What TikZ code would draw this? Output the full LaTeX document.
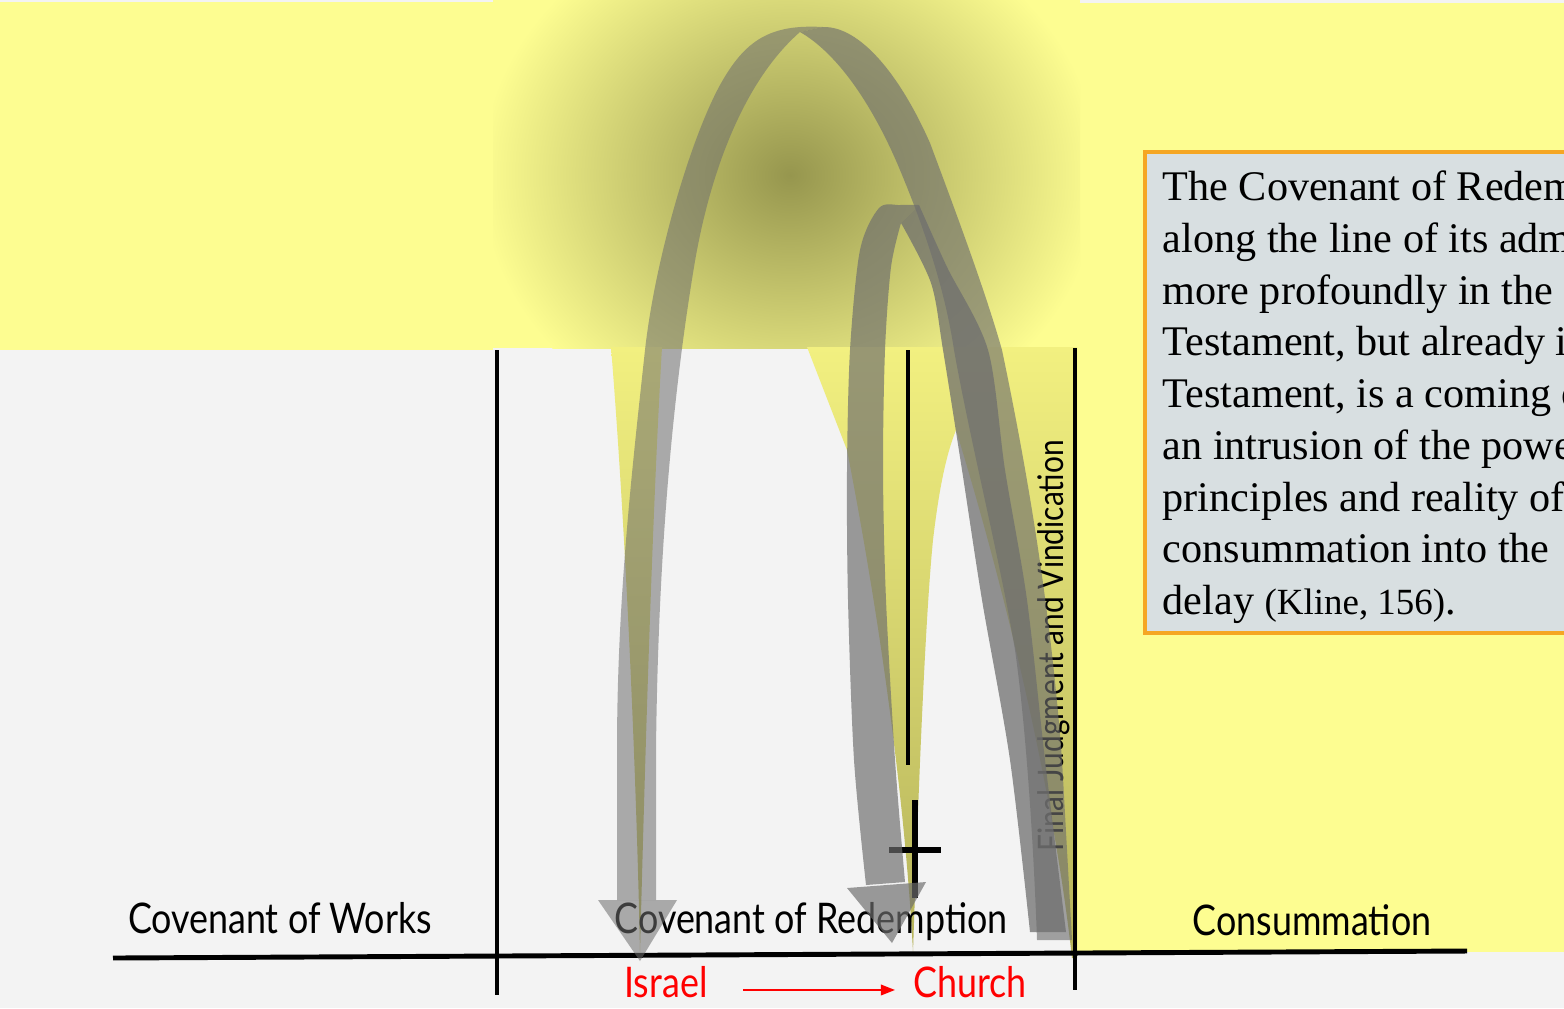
\documentclass[tikz,border=0pt]{standalone}
\usepackage{fontspec}
\setmainfont{Liberation Serif}
\newfontfamily\gillfont[FakeStretch=0.85]{Lato}
\usetikzlibrary{arrows.meta}
\definecolor{slidegray}{RGB}{243,243,243}
\definecolor{slideyellow}{RGB}{253,253,145}
\definecolor{glowolive}{RGB}{150,150,78}
\definecolor{driptop}{RGB}{242,240,128}
\definecolor{dripbottom}{RGB}{180,178,90}
\definecolor{quotefill}{RGB}{216,223,225}
\definecolor{quoteborder}{RGB}{245,166,35}
\definecolor{archgray}{RGB}{110,110,110}
\begin{document}
\begin{tikzpicture}[x=0.01cm, y=-0.01cm,
    timeline/.style={line width=1.4pt, black},
    era/.style={anchor=base, inner sep=0pt, font=\gillfont\fontsize{12}{14}\selectfont},
    people/.style={era, text=red},
    quoteline/.style={anchor=base west, inner sep=0pt, font=\fontsize{12}{14.7}\selectfont},
    bigfront/.style={archgray, fill opacity=0.55},
    bigback/.style={archgray, fill opacity=0.63},
    smallfront/.style={archgray, fill opacity=0.68},
    smallback/.style={archgray, fill opacity=0.74}]
  \useasboundingbox (0,0) rectangle (1564,1008);
  % slide background
  \fill[slidegray] (0,0) rectangle (1564,1008);
  \fill[slideyellow] (0,2) rectangle (493,350);
  \fill[slideyellow] (1077,3) rectangle (1564,952);
  \fill[slideyellow] (493,0) rectangle (1080,348);
  \begin{scope}
    \clip (493,0) rectangle (1080,348);
    \shade[inner color=glowolive, outer color=slideyellow] (790,175) ellipse [x radius=310, y radius=270];
  \end{scope}
  % glow running down
  \shade[top color=driptop, bottom color=dripbottom]
    (611,347) .. controls (625,520) and (636,760) .. (640,952)
    .. controls (645,760) and (652,520) .. (662,347) -- cycle;
  \shade[top color=driptop, bottom color=dripbottom]
    (807,347) -- (847,450) .. controls (880,620) and (905,800) .. (913,952)
    .. controls (918,800) and (925,620) .. (933,540)
    .. controls (940,480) and (948,450) .. (956,430)
    .. controls (990,540) and (1050,760) .. (1072,958)
    -- (1077,958) -- (1077,347) -- cycle;
  % quotation
  \draw[quoteborder, fill=quotefill, line width=0.9pt] (1145,152) rectangle (1600,633);
  \draw
    (1162,200) node[quoteline] (q1) {The Covenant of Redemption}
    (1162,252) node[quoteline] (q2) {along the line of its administration}
    (1162,304) node[quoteline] (q3) {more profoundly in the}
    (1162,355) node[quoteline] (q4) {Testament, but already in}
    (1162,407) node[quoteline] (q5) {Testament, is a coming of}
    (1162,459) node[quoteline] (q6) {an intrusion of the powers}
    (1162,511) node[quoteline] (q7) {principles and reality of}
    (1162,562) node[quoteline] (q8) {consummation into the}
    (1162,614) node[quoteline] (q9) {delay {\fontsize{10.5}{12}\selectfont(Kline, 156)}.};
  % time line
  \draw[timeline] (113,958) -- (1467,951);
  \draw[timeline] (497,350) -- (497,995);
  \draw[timeline] (1075,348) -- (1075,990);
  \draw[line width=1.2pt] (908,350) -- (908,765);
  \draw[line width=1.7pt] (915,800) -- (915,898);
  \draw[line width=1.7pt] (889,850) -- (941,850);
  \draw
    (280,933) node[era] (works) {Covenant of Works}
    (811,933) node[era] (redemption) {Covenant of Redemption}
    (1312,935) node[era] (consummation) {Consummation}
    (666,997) node[people] (israel) {Israel}
    (970,997) node[people] (church) {Church}
    (1063,646) node[era, rotate=90, font=\gillfont\fontsize{10}{12}\selectfont] (judgment) {Final Judgment and Vindication};
  \draw[red, line width=0.5pt, -{Triangle[length=4pt, width=3pt]}, shorten <=10pt, shorten >=5pt]
    ([yshift=2pt]israel.base east) -- ([yshift=2pt]church.base west);
  % big arch, left face then right face
  \fill[bigfront] (823,27) .. controls (770,24) and (745,40) .. (720,85)
    .. controls (690,140) and (655,260) .. (645,350)
    .. controls (632,470) and (617,600) .. (617,750) -- (617,900) -- (656,900) -- (656,750)
    .. controls (658,560) and (672,400) .. (694,267)
    .. controls (710,170) and (745,80) .. (800,32) -- cycle;
  \fill[bigback] (823,27) .. controls (860,26) and (900,75) .. (930,143)
    .. controls (955,210) and (985,290) .. (1002,350)
    .. controls (1025,460) and (1050,600) .. (1062,760) -- (1072,940) -- (1037,940)
    .. controls (1033,830) and (1025,720) .. (1015,650)
    .. controls (1000,560) and (970,440) .. (954,350)
    .. controls (945,290) and (925,230) .. (900,170)
    .. controls (875,110) and (840,55) .. (800,32) -- cycle;
  \fill[bigfront] (598,900) -- (640,961) -- (677,900) -- cycle;
  % small arch, left face then right face
  \fill[smallfront] plot[smooth] coordinates {(919,205) (900,205) (879,208) (860,250) (850,350) (847,470) (848,600) (854,760) (866,885)}
    -- plot[smooth] coordinates {(905,882) (895,760) (886,600) (883,470) (885,350) (891,267) (901,223)} -- cycle;
  \fill[smallback] plot[smooth] coordinates {(1066,932) (1045,760) (1027,600) (1005,470) (988,350) (947,267) (919,205)}
    -- plot[smooth] coordinates {(901,223) (931,283) (943,350) (962,470) (982,600) (1010,760) (1030,932)} -- cycle;
  \fill[smallfront] (847,888) -- (892,943) -- (926,882) -- cycle;
\end{tikzpicture}
\end{document}
